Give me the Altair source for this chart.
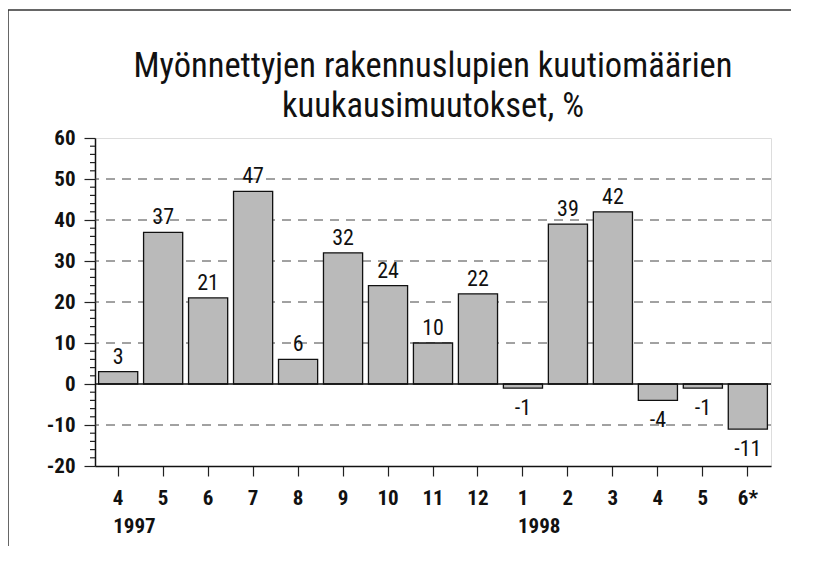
import altair as alt
import pandas as pd

# ---- data ----
month_labels = ["4", "5", "6", "7", "8", "9", "10", "11", "12", "1", "2", "3", "4", "5", "6*"]
values = [3, 37, 21, 47, 6, 32, 24, 10, 22, -1, 39, 42, -4, -1, -11]
year_idx = [0, 9]
year_text = ["1997", "1998"]
major_ticks = list(range(-20, 61, 10))
minor_ticks = [v for v in range(-20, 61, 2) if v % 10 != 0]
grid_values = [-10, 10, 20, 30, 40, 50]
title_lines = ["Myönnettyjen rakennuslupien kuutiomäärien", "kuukausimuutokset, %"]

FONT = "Liberation Sans Narrow, Roboto Condensed, DejaVu Sans Condensed, Arial Narrow, sans-serif"

df = pd.DataFrame({"idx": list(range(len(values))), "value": values,
                   "label": [str(v) for v in values]})
years_df = pd.DataFrame({"idx": year_idx, "year": year_text})
minor_df = pd.DataFrame({"value": minor_ticks})
grid_df = pd.DataFrame({"value": grid_values})

label_expr = "[" + ",".join("'%s'" % m for m in month_labels) + "][datum.value]"

x_enc = alt.X("idx:O",
              scale=alt.Scale(paddingInner=0.13, paddingOuter=0.08),
              axis=alt.Axis(title=None, labelExpr=label_expr, labelAngle=0,
                            tickSize=10, tickColor="#222", tickWidth=1.2,
                            labelPadding=11, labelFontSize=21, labelFont=FONT,
                            labelFontWeight="bold", labelColor="#111",
                            domainColor="#111", domainWidth=1.5, grid=False))

y_scale = alt.Scale(domain=[-20, 60], nice=False, zero=False)
y_axis = alt.Axis(title=None, values=major_ticks, labelOverlap=False,
                  labelExpr="toString(datum.value)",
                  tickSize=11, tickColor="#222", tickWidth=1.2,
                  labelPadding=9, labelFontSize=21, labelFont=FONT,
                  labelFontWeight="bold", labelColor="#111",
                  domainColor="#111", domainWidth=1.5, grid=False)


def yenc():
    return alt.Y("value:Q", scale=y_scale, axis=y_axis)


grid = alt.Chart(grid_df).mark_rule(color="#444", strokeWidth=1, strokeDash=[9, 7]).encode(
    y=yenc())

bars = alt.Chart().mark_bar(fill="#bababa", stroke="#111", strokeWidth=1.3).encode(
    x=x_enc, y=yenc())

minor = alt.Chart(minor_df).mark_rule(color="#222", strokeWidth=1.2).encode(
    y=yenc(), x=alt.value(-5), x2=alt.value(0))

pos_labels = alt.Chart().transform_filter("datum.value >= 0").mark_text(
    baseline="alphabetic", dy=-8, fontSize=22, font=FONT, color="#111"
).encode(x="idx:O", y=yenc(), text="label:N")

neg_labels = alt.Chart().transform_filter("datum.value < 0").mark_text(
    baseline="top", dy=10, fontSize=22, font=FONT, color="#111"
).encode(x="idx:O", y=yenc(), text="label:N")

zero_rule = alt.Chart(alt.Data(values=[{"value": 0}])).mark_rule(color="#111", strokeWidth=1.3).encode(
    y=yenc())

years = alt.Chart(years_df).mark_text(
    align="left", baseline="middle", dx=-5, fontSize=21, font=FONT,
    fontWeight="bold", color="#111"
).encode(x="idx:O", y=alt.value(389), text="year:N")

title1 = alt.Chart(alt.Data(values=[{"t": title_lines[0]}])).mark_text(
    align="center", baseline="middle", fontSize=34.5, font=FONT, color="#111"
).encode(x=alt.value(338), y=alt.value(-71), text="t:N")
title2 = alt.Chart(alt.Data(values=[{"t": title_lines[1]}])).mark_text(
    align="center", baseline="middle", fontSize=34.5, font=FONT, color="#111"
).encode(x=alt.value(338), y=alt.value(-31), text="t:N")

border_top = alt.Chart(alt.Data(values=[{}])).mark_rule(color="#333", strokeWidth=1.5).encode(
    x=alt.value(-87), x2=alt.value(730), y=alt.value(-128))
border_left = alt.Chart(alt.Data(values=[{}])).mark_rule(color="#333", strokeWidth=1.5).encode(
    x=alt.value(-87), y=alt.value(-128), y2=alt.value(440))

chart = alt.layer(grid, bars, minor, pos_labels, neg_labels, zero_rule, years, title1, title2,
                  border_top, border_left, data=df).properties(
    width=676, height=328,
    autosize=alt.AutoSizeParams(type="none"),
    padding={"left": 87, "top": 130, "right": 20, "bottom": 80},
).configure_view(stroke="#111", strokeWidth=1.5).configure(background="white")

chart.save("out.html", embed_options={"renderer": "svg", "actions": False})
